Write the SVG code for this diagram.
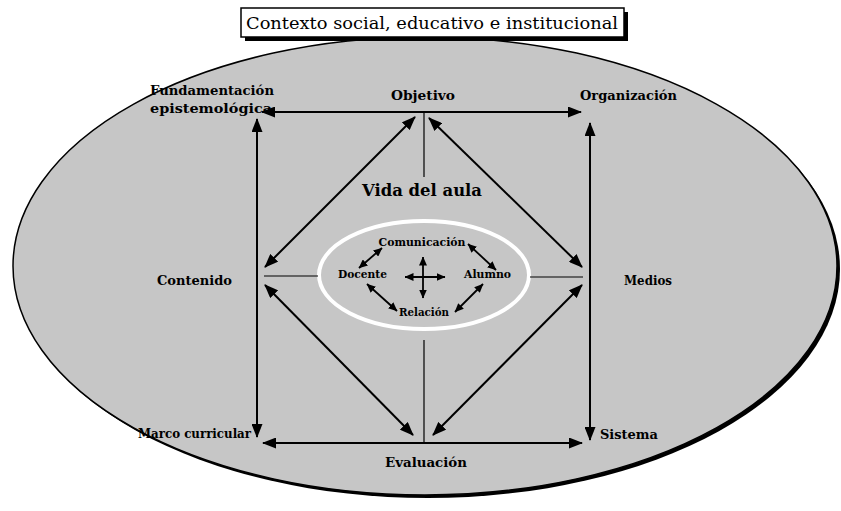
<svg xmlns="http://www.w3.org/2000/svg" width="841" height="511" viewBox="0 0 841 511">
<style>
.lbl{font-family:"DejaVu Serif","Liberation Serif",serif;font-weight:bold;font-size:13.5px;fill:#000}
.sm{font-family:"DejaVu Serif","Liberation Serif",serif;font-weight:bold;font-size:11px;fill:#000}
.big{stroke:#000;stroke-width:2;fill:none;marker-start:url(#ah);marker-end:url(#ah)}
.thin{stroke:#000;stroke-width:1.2;fill:none}
.inner{stroke:#000;stroke-width:1.8;fill:none;marker-start:url(#ahs);marker-end:url(#ahs)}
</style>
<defs>
<marker id="ah" markerUnits="userSpaceOnUse" markerWidth="14" markerHeight="11" refX="13" refY="5.5" orient="auto-start-reverse" viewBox="0 0 14 11"><path d="M0,0 L14,5.5 L0,11 z" fill="#000"/></marker>
<marker id="ahs" markerUnits="userSpaceOnUse" markerWidth="9" markerHeight="8" refX="8.5" refY="4" orient="auto-start-reverse" viewBox="0 0 9 8"><path d="M0,0 L9,4 L0,8 z" fill="#000"/></marker>
</defs>
<rect width="841" height="511" fill="#fff"/>
<g id="context">
<ellipse cx="428" cy="269" rx="412" ry="229" fill="#000"/>
<ellipse cx="425" cy="266" rx="412" ry="229" fill="#c6c6c6" stroke="#000" stroke-width="1.5"/>
</g>
<g id="title">
<rect x="245" y="12" width="383" height="29" fill="#000"/>
<rect x="241" y="8" width="383" height="29" fill="#fff" stroke="#000" stroke-width="1.5"/>
<text x="432" y="29" text-anchor="middle" font-family="'DejaVu Serif','Liberation Serif',serif" font-size="16.5" textLength="372" lengthAdjust="spacingAndGlyphs">Contexto social, educativo e institucional</text>
</g>
<g id="aula-ring">
<ellipse cx="424" cy="275" rx="105" ry="54" fill="none" stroke="#fff" stroke-width="4"/>
</g>
<g id="connectors">
<line class="big" x1="262" y1="112" x2="581" y2="112"/>
<line class="big" x1="263" y1="443" x2="582" y2="443"/>
<line class="big" x1="257" y1="119" x2="257" y2="437"/>
<line class="big" x1="590" y1="123" x2="590" y2="440"/>
<line class="big" x1="415" y1="117" x2="265" y2="267"/>
<line class="big" x1="429" y1="118" x2="582" y2="267"/>
<line class="big" x1="265" y1="285" x2="413" y2="435"/>
<line class="big" x1="582" y1="285" x2="433" y2="435"/>
<line class="thin" x1="424" y1="112" x2="424" y2="177"/>
<line class="thin" x1="424" y1="340" x2="424" y2="443"/>
<line class="thin" x1="264" y1="276" x2="318" y2="276"/>
<line class="thin" x1="530" y1="277" x2="583" y2="277"/>
<line class="inner" x1="359" y1="268" x2="382" y2="248"/>
<line class="inner" x1="468" y1="244" x2="496" y2="270"/>
<line class="inner" x1="367" y1="284" x2="397" y2="311"/>
<line class="inner" x1="483" y1="284" x2="455" y2="312"/>
<line class="inner" x1="405" y1="277" x2="445" y2="277"/>
<line class="inner" x1="423" y1="257" x2="423" y2="298"/>
</g>
<g id="fundamentacion"><text class="lbl" x="150" y="95" textLength="124" lengthAdjust="spacingAndGlyphs">Fundamentación</text><text class="lbl" x="150" y="113" textLength="122" lengthAdjust="spacingAndGlyphs">epistemológica</text></g>
<g id="objetivo"><text class="lbl" x="423" y="100" text-anchor="middle" textLength="64" lengthAdjust="spacingAndGlyphs">Objetivo</text></g>
<g id="organizacion"><text class="lbl" x="580" y="100" textLength="97" lengthAdjust="spacingAndGlyphs">Organización</text></g>
<g id="vida"><text x="422" y="196" text-anchor="middle" font-family="'DejaVu Serif','Liberation Serif',serif" font-weight="bold" font-size="17" textLength="120" lengthAdjust="spacingAndGlyphs">Vida del aula</text></g>
<g id="contenido"><text class="lbl" x="157" y="285" textLength="75" lengthAdjust="spacingAndGlyphs">Contenido</text></g>
<g id="medios"><text class="lbl" x="624" y="285" textLength="48" lengthAdjust="spacingAndGlyphs">Medios</text></g>
<g id="marco"><text class="lbl" x="138" y="438" textLength="113" lengthAdjust="spacingAndGlyphs">Marco curricular</text></g>
<g id="sistema"><text class="lbl" x="600" y="439" textLength="58" lengthAdjust="spacingAndGlyphs">Sistema</text></g>
<g id="evaluacion"><text class="lbl" x="426" y="467" text-anchor="middle" textLength="82" lengthAdjust="spacingAndGlyphs">Evaluación</text></g>
<g id="comunicacion"><text class="sm" x="422" y="246" text-anchor="middle" textLength="87" lengthAdjust="spacingAndGlyphs">Comunicación</text></g>
<g id="docente"><text class="sm" x="338" y="278" textLength="49" lengthAdjust="spacingAndGlyphs">Docente</text></g>
<g id="alumno"><text class="sm" x="464" y="278" textLength="47" lengthAdjust="spacingAndGlyphs">Alumno</text></g>
<g id="relacion"><text class="sm" x="424" y="316" text-anchor="middle" textLength="50" lengthAdjust="spacingAndGlyphs">Relación</text></g>
</svg>
